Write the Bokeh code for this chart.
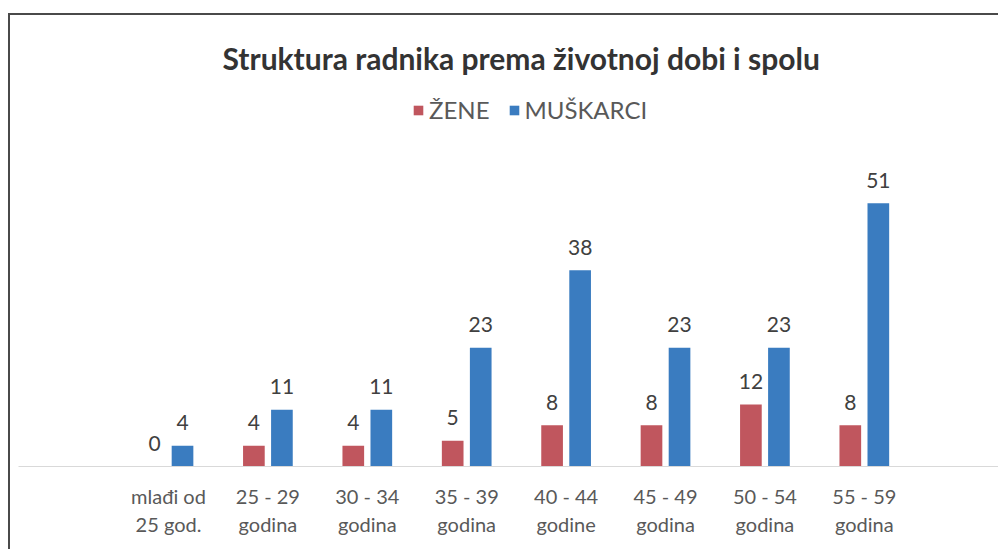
from bokeh.plotting import figure
from bokeh.models import ColumnDataSource, Range1d, FixedTicker, Legend, LegendItem
from bokeh.transform import dodge
from bokeh.core.properties import value
from bokeh.embed import file_html
from bokeh.resources import INLINE

# ---- data ----
categories = ["mlađi od\n25 god.", "25 - 29\ngodina", "30 - 34\ngodina", "35 - 39\ngodina",
              "40 - 44\ngodine", "45 - 49\ngodina", "50 - 54\ngodina", "55 - 59\ngodina"]
zene = [0, 4, 4, 5, 8, 8, 12, 8]
muskarci = [4, 11, 11, 23, 38, 23, 23, 51]
series_names = ["ŽENE", "MUŠKARCI"]
title_text = "Struktura radnika prema životnoj dobi i spolu"

RED = "#C0565E"
BLUE = "#3A7CC0"
FONT = "Lato"

xs = list(range(len(categories)))
src = ColumnDataSource(dict(
    x=xs, zene=zene, muskarci=muskarci,
    zl=[str(v) for v in zene], ml=[str(v) for v in muskarci],
))

W, H = 990, 536
p = figure(width=W, height=H,
           x_range=Range1d(-1.509, 8.370), y_range=Range1d(0, 74.76),
           output_backend="svg", toolbar_location=None,
           min_border_left=8, min_border_right=0, min_border_top=65,
           min_border_bottom=H - 451, y_axis_location=None)
p.styles = {"border-top": "2px solid #4a4a4a", "border-left": "2px solid #4a4a4a",
            "margin-top": "13px", "margin-left": "8px"}
p.outline_line_color = None
p.xgrid.grid_line_color = None
p.ygrid.grid_line_color = None
p.background_fill_color = "white"
p.border_fill_color = "white"

p.title.text = title_text
p.title.text_font = FONT
p.title.text_font_style = "bold"
p.title.text_font_size = "30px"
p.title.text_color = "#333333"
p.title.align = "left"
p.title.offset = 204

off = 0.141
bw = 0.218
r1 = p.vbar(x=dodge("x", -off), top="zene", width=bw, source=src,
            fill_color=RED, line_color=None)
r2 = p.vbar(x=dodge("x", off), top="muskarci", width=bw, source=src,
            fill_color=BLUE, line_color=None)

for col, lbl, o in (("zene", "zl", -off), ("muskarci", "ml", off)):
    p.text(x=dodge("x", o), y=col, text=lbl, source=src,
           text_font=value(FONT), text_font_size=value("21px"),
           text_color="#404040", text_align="center",
           text_baseline="alphabetic", y_offset=-23)

ax = p.xaxis[0]
ax.ticker = FixedTicker(ticks=xs)
ax.major_label_overrides = {i: c for i, c in enumerate(categories)}
ax.major_label_text_font = FONT
ax.major_label_text_font_size = "20px"
ax.major_label_text_color = "#595959"
ax.axis_line_color = "#d9d9d9"
ax.axis_line_width = 1
ax.major_tick_line_color = None
ax.minor_tick_line_color = None
ax.major_label_standoff = 11

legend = Legend(items=[LegendItem(label=series_names[0], renderers=[r1]),
                       LegendItem(label=series_names[1], renderers=[r2])],
                orientation="horizontal", location=(394, 342),
                label_text_font=FONT, label_text_font_size="24px",
                label_text_color="#595959", glyph_width=12, glyph_height=12,
                spacing=18, label_standoff=5, padding=0, margin=0,
                border_line_color=None, background_fill_alpha=0)
p.add_layout(legend)

open("out.html", "w").write(file_html(p, INLINE))
